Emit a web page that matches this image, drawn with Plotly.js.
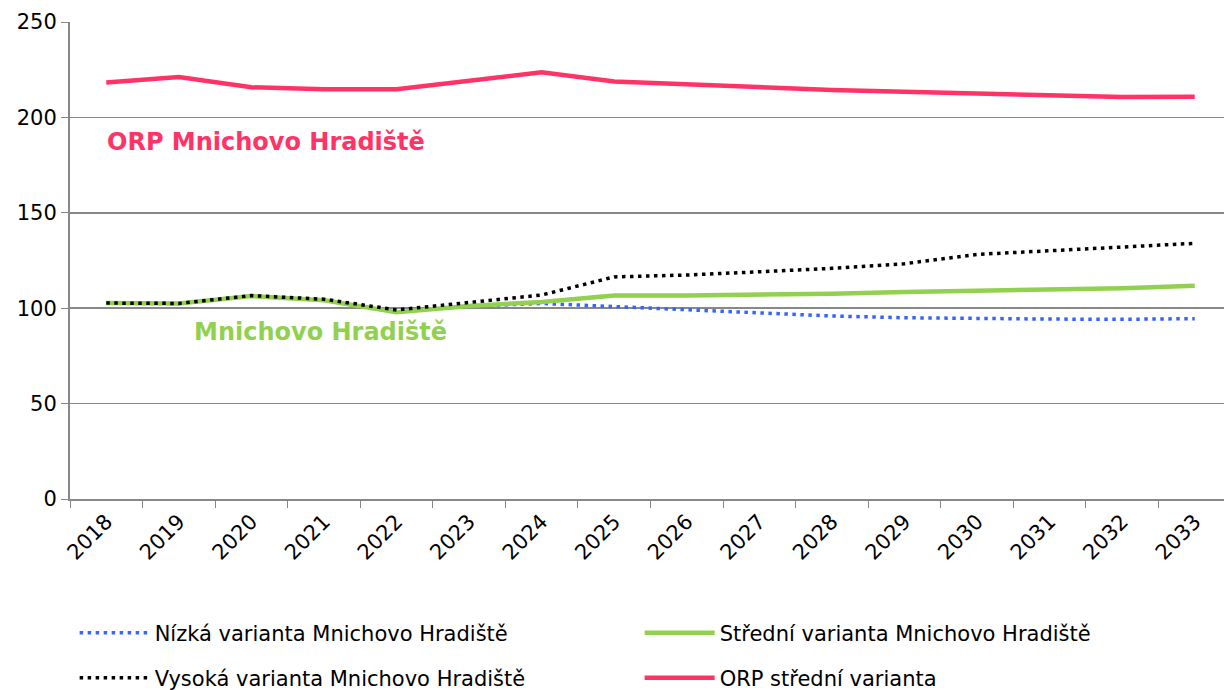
<!DOCTYPE html>
<html><head><meta charset="utf-8">
<script src="https://cdn.plot.ly/plotly-3.0.1.min.js"></script>
<style>html,body{margin:0;padding:0;overflow:hidden;background:#fff}</style>
</head><body>
<div id="chart"></div>
<script>
const years = ["2018","2019","2020","2021","2022","2023","2024","2025","2026","2027","2028","2029","2030","2031","2032","2033"];
const nizka   = [102.7,102.5,106.4,104.4,98.2,101.0,102.5,100.8,99.4,97.3,95.9,95.0,94.5,94.3,94.2,94.5];
const stredni = [102.7,102.5,106.4,104.2,97.9,101.2,103.3,106.6,106.6,106.9,107.6,108.5,109.1,109.9,110.5,111.8];
const vysoka  = [102.7,102.5,106.6,104.7,99.1,102.9,106.9,116.4,117.4,119.1,120.9,123.3,128.2,130.1,132.2,134.0];
const orp     = [218.3,221.2,215.8,214.7,214.7,219.0,223.6,218.8,217.3,215.8,214.4,213.5,212.5,211.6,210.7,210.8];
const seriesNames = ["Nízká varianta Mnichovo Hradiště","Střední varianta Mnichovo Hradiště","Vysoká varianta Mnichovo Hradiště","ORP střední varianta"];
const yTicks = [0,50,100,150,200,250];

const F = "DejaVu Sans, Verdana, sans-serif";
const traces = [
  {x: years, y: nizka, name: seriesNames[0], mode: "lines", line: {color: "#3366ff", width: 3.5, dash: "3.5px,4.5px"}, legend: "legend"},
  {x: years, y: stredni, name: seriesNames[1], mode: "lines", line: {color: "#92d050", width: 4.5}, legend: "legend"},
  {x: years, y: vysoka, name: seriesNames[2], mode: "lines", line: {color: "#000000", width: 3.5, dash: "3.5px,4.5px"}, legend: "legend2"},
  {x: years, y: orp, name: seriesNames[3], mode: "lines", line: {color: "#ff3366", width: 4.5}, legend: "legend2"}
];
const legendCommon = {orientation: "h", x: 0.004, xanchor: "left", yanchor: "middle", font: {family: F, size: 21, color: "#000"},
  entrywidth: 480, entrywidthmode: "pixels", itemwidth: 70, bgcolor: "rgba(0,0,0,0)", traceorder: "normal", itemclick: false};
const layout = {
  width: 1240, height: 690,
  margin: {l: 70, r: 9, t: 22, b: 191, autoexpand: false},
  paper_bgcolor: "#fff", plot_bgcolor: "#fff",
  font: {family: F, size: 21, color: "#000"},
  showlegend: true,
  legend: Object.assign({}, legendCommon, {y: (499-633)/477}),
  legend2: Object.assign({}, legendCommon, {y: (499-678)/477}),
  xaxis: {type: "category", range: [-0.5, 15.5], tickangle: -45, ticks: "outside", ticklen: 7, tickcolor: "#888",
    tickson: "boundaries", showline: true, linecolor: "#888", linewidth: 2, showgrid: false, zeroline: false,
    tickfont: {family: F, size: 21, color: "#000"}, fixedrange: true, automargin: false},
  yaxis: {range: [0, 250], tickvals: yTicks, ticks: "outside", ticklen: 7, tickcolor: "#888", showline: true,
    linecolor: "#888", linewidth: 2, gridcolor: "#888", gridwidth: 1.5, zeroline: false,
    tickfont: {family: F, size: 21, color: "#000"}, fixedrange: true, automargin: false},
  annotations: [
    {text: "<b>ORP Mnichovo Hradiště</b>", xref: "paper", yref: "y", x: (105-70)/1161, y: 187, xanchor: "left", yanchor: "middle",
      showarrow: false, font: {family: F, size: 24, color: "#ff3366"}},
    {text: "<b>Mnichovo Hradiště</b>", xref: "paper", yref: "y", x: (192-70)/1161, y: 87.5, xanchor: "left", yanchor: "middle",
      showarrow: false, font: {family: F, size: 24, color: "#92d050"}}
  ]
};
Plotly.newPlot("chart", traces, layout, {displayModeBar: false, staticPlot: true});
</script>
</body></html>
